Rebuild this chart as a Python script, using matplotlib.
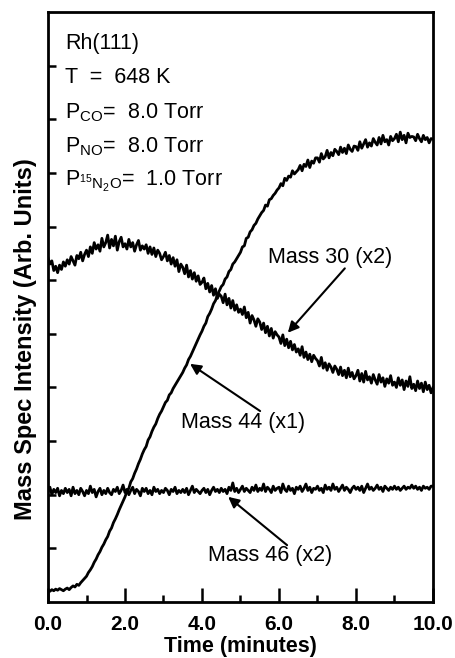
import numpy as np
import matplotlib
matplotlib.use("Agg")
import matplotlib.pyplot as plt

plt.rcParams["font.family"] = ["Liberation Sans", "DejaVu Sans"]
plt.rcParams["mathtext.default"] = "regular"

# time axis, minutes, 0.05 min steps
time = np.linspace(0, 10, 201)

mass44 = [
    0.22, 0.20, 0.23, 0.21, 0.24, 0.22, 0.25, 0.23, 0.21, 0.24,
    0.26, 0.23, 0.27, 0.30, 0.28, 0.33, 0.31, 0.36, 0.40, 0.44,
    0.48, 0.55, 0.60, 0.66, 0.74, 0.80, 0.88, 0.94, 1.02, 1.08,
    1.16, 1.22, 1.32, 1.38, 1.48, 1.55, 1.63, 1.72, 1.80, 1.88,
    1.96, 2.06, 2.12, 2.24, 2.30, 2.40, 2.48, 2.58, 2.66, 2.76,
    2.84, 2.90, 3.02, 3.08, 3.18, 3.26, 3.32, 3.42, 3.50, 3.56,
    3.64, 3.72, 3.76, 3.86, 3.90, 3.98, 4.04, 4.10, 4.16, 4.22,
    4.28, 4.36, 4.42, 4.52, 4.58, 4.66, 4.74, 4.82, 4.90, 4.98,
    5.05, 5.14, 5.20, 5.32, 5.38, 5.46, 5.56, 5.62, 5.72, 5.80,
    5.88, 5.92, 6.02, 6.06, 6.16, 6.20, 6.30, 6.34, 6.40, 6.46,
    6.52, 6.62, 6.64, 6.78, 6.80, 6.90, 6.94, 7.02, 7.06, 7.14,
    7.20, 7.26, 7.30, 7.40, 7.38, 7.50, 7.52, 7.58, 7.62, 7.68,
    7.72, 7.80, 7.76, 7.90, 7.86, 7.94, 7.92, 8.04, 7.98, 8.02,
    8.06, 8.14, 8.04, 8.16, 8.12, 8.24, 8.10, 8.22, 8.18, 8.28,
    8.28, 8.20, 8.36, 8.26, 8.30, 8.42, 8.28, 8.38, 8.32, 8.44,
    8.40, 8.34, 8.48, 8.38, 8.46, 8.36, 8.52, 8.44, 8.40, 8.50,
    8.49, 8.42, 8.58, 8.46, 8.54, 8.62, 8.48, 8.56, 8.50, 8.64,
    8.57, 8.52, 8.66, 8.54, 8.70, 8.58, 8.62, 8.52, 8.68, 8.60,
    8.64, 8.72, 8.58, 8.76, 8.62, 8.70, 8.56, 8.74, 8.66, 8.68,
    8.67, 8.60, 8.72, 8.64, 8.58, 8.70, 8.62, 8.66, 8.56, 8.64,
    8.63,
]

mass30 = [
    6.42, 6.30, 6.36, 6.18, 6.26, 6.14, 6.28, 6.20, 6.34, 6.26,
    6.38, 6.30, 6.44, 6.36, 6.28, 6.46, 6.40, 6.52, 6.36, 6.48,
    6.56, 6.44, 6.62, 6.50, 6.70, 6.58, 6.66, 6.54, 6.78, 6.62,
    6.70, 6.84, 6.60, 6.76, 6.64, 6.82, 6.56, 6.72, 6.80, 6.62,
    6.68, 6.58, 6.76, 6.62, 6.70, 6.54, 6.66, 6.74, 6.56, 6.64,
    6.58, 6.66, 6.50, 6.62, 6.48, 6.60, 6.44, 6.56, 6.50, 6.38,
    6.44, 6.52, 6.36, 6.46, 6.30, 6.42, 6.26, 6.38, 6.16, 6.30,
    6.24, 6.12, 6.28, 6.06, 6.18, 6.02, 6.14, 5.98, 6.08, 5.92,
    5.96, 6.04, 5.84, 5.94, 5.78, 5.90, 5.72, 5.84, 5.66, 5.74,
    5.70, 5.58, 5.74, 5.54, 5.66, 5.48, 5.62, 5.44, 5.54, 5.40,
    5.46, 5.36, 5.50, 5.30, 5.40, 5.20, 5.34, 5.26, 5.14, 5.28,
    5.22, 5.08, 5.20, 5.02, 5.14, 4.96, 5.10, 4.92, 5.04, 4.98,
    4.94, 4.82, 4.98, 4.78, 4.90, 4.74, 4.86, 4.70, 4.80, 4.66,
    4.72, 4.60, 4.76, 4.56, 4.66, 4.52, 4.62, 4.48, 4.60, 4.54,
    4.50, 4.40, 4.56, 4.36, 4.46, 4.32, 4.44, 4.38, 4.28, 4.40,
    4.34, 4.24, 4.38, 4.22, 4.32, 4.18, 4.36, 4.20, 4.28, 4.16,
    4.22, 4.32, 4.12, 4.26, 4.10, 4.30, 4.14, 4.20, 4.08, 4.24,
    4.14, 4.06, 4.24, 4.10, 4.18, 4.02, 4.16, 4.08, 4.22, 4.04,
    4.10, 4.00, 4.18, 4.04, 4.14, 3.96, 4.12, 4.02, 4.20, 3.98,
    4.06, 3.94, 4.12, 3.98, 4.08, 3.92, 4.10, 3.96, 4.04, 3.90,
    4.00,
]

mass46 = [
    2.06, 2.14, 2.00, 2.10, 2.04, 2.12, 1.98, 2.08, 2.02, 2.12,
    2.04, 2.10, 1.98, 2.14, 2.02, 2.08, 2.00, 2.12, 2.06, 1.98,
    2.08, 2.02, 2.16, 2.04, 2.10, 1.96, 2.06, 2.12, 2.00, 2.08,
    2.02, 2.12, 2.04, 2.00, 2.10, 2.06, 2.14, 2.02, 2.08, 2.18,
    2.04, 2.10, 2.00, 2.08, 2.14, 2.02, 2.10, 2.06, 1.98, 2.12,
    2.06, 2.12, 2.02, 2.08, 2.00, 2.14, 2.06, 2.10, 2.02, 2.08,
    2.04, 2.12, 2.08, 2.00, 2.10, 2.06, 2.14, 2.02, 2.08, 2.04,
    2.10, 2.04, 2.12, 2.00, 2.08, 2.16, 2.04, 2.10, 2.06, 2.02,
    2.08, 2.12, 2.04, 2.10, 2.00, 2.08, 2.14, 2.06, 2.10, 2.04,
    2.12, 2.06, 2.10, 2.02, 2.14, 2.08, 2.22, 2.06, 2.12, 2.04,
    2.10, 2.16, 2.06, 2.12, 2.08, 2.04, 2.14, 2.08, 2.18, 2.06,
    2.12, 2.08, 2.20, 2.06, 2.14, 2.10, 2.04, 2.16, 2.08, 2.12,
    2.14, 2.04, 2.20, 2.10, 2.06, 2.16, 2.08, 2.12, 2.02, 2.14,
    2.10, 2.16, 2.06, 2.12, 2.20, 2.08, 2.14, 2.04, 2.12, 2.10,
    2.16, 2.08, 2.12, 2.04, 2.18, 2.10, 2.14, 2.08, 2.20, 2.10,
    2.14, 2.06, 2.12, 2.18, 2.08, 2.14, 2.10, 2.04, 2.12, 2.16,
    2.10, 2.14, 2.08, 2.16, 2.04, 2.12, 2.20, 2.10, 2.14, 2.08,
    2.12, 2.18, 2.10, 2.14, 2.06, 2.16, 2.12, 2.08, 2.14, 2.10,
    2.16, 2.10, 2.14, 2.08, 2.12, 2.16, 2.10, 2.14, 2.12, 2.18,
    2.12, 2.16, 2.10, 2.14, 2.08, 2.16, 2.12, 2.14, 2.10, 2.16,
    2.16,
]

conditions = [
    "Rh(111)",
    "T  =  648 K",
    "P$_{CO}$=  8.0 Torr",
    "P$_{NO}$=  8.0 Torr",
    "P$_{^{15}N_2O}$=  1.0 Torr",
]

# label text, text position, arrow head position (data units)
labels = ["Mass 30 (x2)", "Mass 44 (x1)", "Mass 46 (x2)"]
label_xy = [(7.32, 6.42), (5.07, 3.34), (5.77, 0.86)]
arrow_xy = [(6.23, 5.02), (3.69, 4.44), (4.68, 1.96)]
tail_xy = [(7.71, 6.22), (5.51, 3.56), (6.21, 1.06)]

fig = plt.figure(figsize=(4.55, 6.58), dpi=100)
ax = fig.add_axes([0.1055, 0.0851, 0.8461, 0.8967])

for y in (mass44, mass30, mass46):
    ax.plot(time, y, color="black", lw=2.0)

ax.set_xlim(0, 10)
ax.set_ylim(0, 11)
ax.set_xticks(np.arange(0, 10.1, 2))
ax.set_xticks(np.arange(1, 10, 2), minor=True)
ax.set_xticklabels([f"{v:.1f}" for v in np.arange(0, 10.1, 2)],
                   fontsize=15, fontweight="bold")
ax.set_yticks(np.arange(1, 11))
ax.set_yticklabels([])
ax.tick_params(axis="x", which="major", direction="in", length=10, width=1.8, pad=9)
ax.tick_params(axis="x", which="minor", direction="in", length=5, width=1.8)
ax.tick_params(axis="y", direction="in", length=6, width=1.8)
for s in ax.spines.values():
    s.set_linewidth(2.0)

ax.set_xlabel("Time (minutes)", fontsize=15.5, fontweight="bold", labelpad=2)
ax.set_ylabel("Mass Spec Intensity (Arb. Units)", fontsize=17, fontweight="bold")
ax.yaxis.set_label_coords(-0.028, 0.446)

ys = [10.41, 9.78, 9.12, 8.49, 7.84]
for txt, y in zip(conditions, ys):
    ax.text(0.44, y, txt, fontsize=15.5, va="center", ha="left")

for lab, (tx, ty), (hx, hy), (sx, sy) in zip(labels, label_xy, arrow_xy, tail_xy):
    ax.text(tx, ty, lab, fontsize=15.5, ha="center", va="center")
    ax.annotate("", xy=(hx, hy), xytext=(sx, sy),
                arrowprops=dict(arrowstyle="-|>", color="black", lw=1.5,
                                mutation_scale=16, shrinkA=0, shrinkB=0))

fig.savefig("out.png", dpi=100)
